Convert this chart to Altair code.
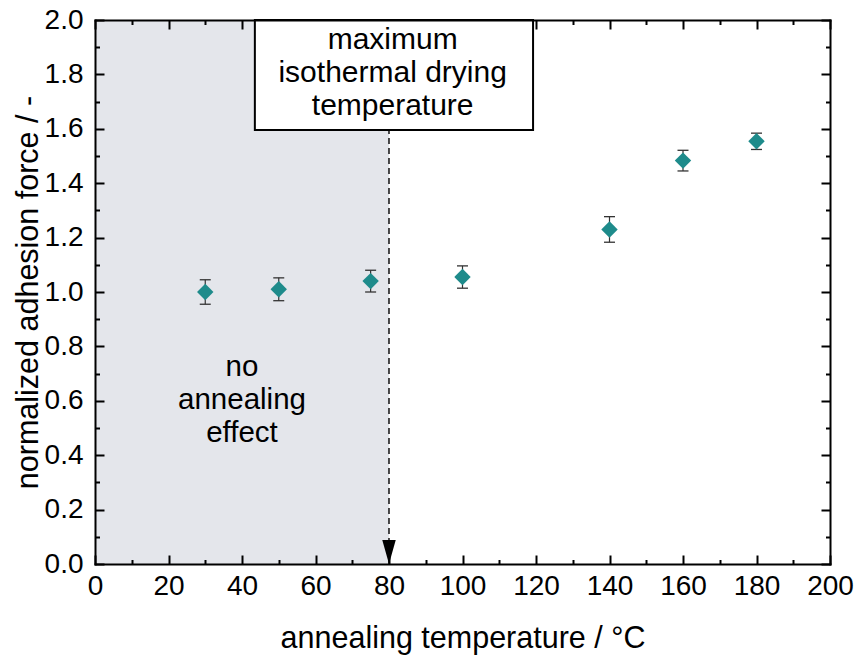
import altair as alt
import pandas as pd

# ---- data ----
temps = [30, 50, 75, 100, 140, 160, 180]
force = [1.00, 1.01, 1.04, 1.055, 1.23, 1.483, 1.554]
err = [0.045, 0.042, 0.040, 0.041, 0.047, 0.038, 0.030]

x_major = [0, 20, 40, 60, 80, 100, 120, 140, 160, 180, 200]
x_minor = [10, 30, 50, 70, 90, 110, 130, 150, 170, 190]
x_major_top = [0, 20, 40, 120, 140, 160, 180, 200]
x_minor_top = [10, 30, 130, 150, 170, 190]
y_major = [0.0, 0.2, 0.4, 0.6, 0.8, 1.0, 1.2, 1.4, 1.6, 1.8, 2.0]
y_minor = [0.1, 0.3, 0.5, 0.7, 0.9, 1.1, 1.3, 1.5, 1.7, 1.9]

shade_x = [0, 80]
shade_y = [0, 2]
dry_temp = [80]
dash_y = [0, 1.596]
box_x = [43.5, 119.2]
box_y = [1.596, 2.0]
box_label = ["maximum\nisothermal drying\ntemperature"]
box_label_pos = [81, 1.893]
region_label = ["no\nannealing\neffect"]
region_label_pos = [40, 0.691]

FONT = "Liberation Sans"
TEAL = "#1e8b8b"
SHADE = "#e4e6eb"

pts = pd.DataFrame({
    "t": temps,
    "f": force,
    "lo": [f - e for f, e in zip(force, err)],
    "hi": [f + e for f, e in zip(force, err)],
})

xs = alt.Scale(domain=[0, 200], nice=False, zero=False)
ys = alt.Scale(domain=[0, 2], nice=False, zero=False)

shade_df = pd.DataFrame({"x": [shade_x[0]], "x2": [shade_x[1]], "y": [shade_y[0]], "y2": [shade_y[1]]})
shade = alt.Chart(shade_df).mark_rect(color=SHADE).encode(
    x=alt.X("x:Q", scale=xs, axis=None), x2="x2:Q",
    y=alt.Y("y:Q", scale=ys, axis=None), y2="y2:Q",
)

dash_df = pd.DataFrame({"x": dry_temp, "y": [dash_y[0]], "y2": [dash_y[1]]})
dash = alt.Chart(dash_df).mark_rule(color="black", strokeWidth=1.4, strokeDash=[6, 4]).encode(
    x=alt.X("x:Q", scale=xs, axis=None),
    y=alt.Y("y:Q", scale=ys, axis=None), y2="y2:Q",
)

arrow_df = pd.DataFrame({"x": dry_temp, "y": [0]})
arrow = alt.Chart(arrow_df).mark_point(
    shape="M -0.56 -2 L 0.56 -2 L 0 0 Z", size=576, filled=True, color="black", opacity=1
).encode(
    x=alt.X("x:Q", scale=xs, axis=None),
    y=alt.Y("y:Q", scale=ys, axis=None),
)

box_df = pd.DataFrame({"x": [box_x[0]], "x2": [box_x[1]], "y": [box_y[0]], "y2": [box_y[1]]})
box = alt.Chart(box_df).mark_rect(fill="white", stroke="black", strokeWidth=2).encode(
    x=alt.X("x:Q", scale=xs, axis=None), x2="x2:Q",
    y=alt.Y("y:Q", scale=ys, axis=None), y2="y2:Q",
)

box_txt_df = pd.DataFrame({"x": [box_label_pos[0]], "y": [box_label_pos[1]], "label": box_label})
box_txt = alt.Chart(box_txt_df).mark_text(
    font=FONT, fontSize=30, lineBreak="\n", lineHeight=33, align="center", baseline="alphabetic", color="black"
).encode(
    x=alt.X("x:Q", scale=xs, axis=None),
    y=alt.Y("y:Q", scale=ys, axis=None),
    text="label:N",
)

reg_txt_df = pd.DataFrame({"x": [region_label_pos[0]], "y": [region_label_pos[1]], "label": region_label})
reg_txt = alt.Chart(reg_txt_df).mark_text(
    font=FONT, fontSize=29.5, lineBreak="\n", lineHeight=33, align="center", baseline="alphabetic", color="black"
).encode(
    x=alt.X("x:Q", scale=xs, axis=None),
    y=alt.Y("y:Q", scale=ys, axis=None),
    text="label:N",
)

ebar = alt.Chart(pts).mark_rule(color="#333333", strokeWidth=1.2).encode(
    x=alt.X("t:Q", scale=xs, axis=None),
    y=alt.Y("lo:Q", scale=ys, axis=None), y2="hi:Q",
)
cap_lo = alt.Chart(pts).mark_tick(orient="horizontal", size=11, thickness=1.3, color="#333333", opacity=1).encode(
    x=alt.X("t:Q", scale=xs, axis=None),
    y=alt.Y("lo:Q", scale=ys, axis=None),
)
cap_hi = alt.Chart(pts).mark_tick(orient="horizontal", size=11, thickness=1.3, color="#333333", opacity=1).encode(
    x=alt.X("t:Q", scale=xs, axis=None),
    y=alt.Y("hi:Q", scale=ys, axis=None),
)
points = alt.Chart(pts).mark_point(shape="diamond", size=270, filled=True, color=TEAL, opacity=1).encode(
    x=alt.X("t:Q", scale=xs, axis=None),
    y=alt.Y("f:Q", scale=ys, axis=None),
)


def axis_layer(xaxis, yaxis):
    return alt.Chart(pts).mark_point(opacity=0).encode(
        x=alt.X("t:Q", scale=xs, axis=xaxis),
        y=alt.Y("f:Q", scale=ys, axis=yaxis),
    )


def tick_axis(orient, values, length):
    return alt.Axis(
        orient=orient, values=values, labels=False, domain=False, grid=False,
        ticks=True, tickSize=length, tickWidth=2, tickColor="black",
        offset=-length, title=None, zindex=1,
    )


label_layer = axis_layer(
    alt.Axis(
        orient="bottom", values=x_major, format="d", grid=False,
        ticks=False, tickSize=0, labelPadding=8,
        labelFont=FONT, labelFontSize=28, labelColor="black",
        labelFlush=False, labelOverlap=False,
        domain=True, domainWidth=2, domainColor="black", domainCap="square",
        title="annealing temperature / °C", titleFont=FONT, titleFontSize=30.5,
        titleFontWeight="normal", titleColor="black",
        titleBaseline="alphabetic", titleY=83, zindex=1,
    ),
    alt.Axis(
        orient="left", values=y_major, format=".1f", grid=False,
        ticks=False, tickSize=0, labelPadding=12,
        labelFont=FONT, labelFontSize=28, labelColor="black",
        labelFlush=False, labelOverlap=False,
        domain=True, domainWidth=2, domainColor="black", domainCap="square",
        title="normalized adhesion force / -", titleFont=FONT, titleFontSize=30.5,
        titleFontWeight="normal", titleColor="black",
        titleBaseline="alphabetic", titleX=-58, zindex=1,
    ),
)

frame_layer = axis_layer(
    alt.Axis(orient="top", labels=False, ticks=False, grid=False, domain=True,
             domainWidth=2, domainColor="black", domainCap="square", title=None, zindex=1),
    alt.Axis(orient="right", labels=False, ticks=False, grid=False, domain=True,
             domainWidth=2, domainColor="black", domainCap="square", title=None, zindex=1),
)

major_near = axis_layer(tick_axis("bottom", x_major, 9), tick_axis("left", y_major, 9))
minor_near = axis_layer(tick_axis("bottom", x_minor, 4.5), tick_axis("left", y_minor, 4.5))
major_far = axis_layer(tick_axis("top", x_major_top, 9), tick_axis("right", y_major, 9))
minor_far = axis_layer(tick_axis("top", x_minor_top, 4.5), tick_axis("right", y_minor, 4.5))

chart = alt.layer(
    shade, dash, arrow, box, box_txt, reg_txt, ebar, cap_lo, cap_hi, points,
    label_layer, frame_layer, major_near, minor_near, major_far, minor_far,
).resolve_axis(
    x="independent", y="independent"
).properties(
    width=735, height=544,
    padding={"left": 95, "top": 20, "right": 32, "bottom": 91},
    autosize=alt.AutoSizeParams(type="none"),
    background="white",
).configure_view(stroke=None)

chart.save("out.html", embed_options={"renderer": "svg", "actions": False})
